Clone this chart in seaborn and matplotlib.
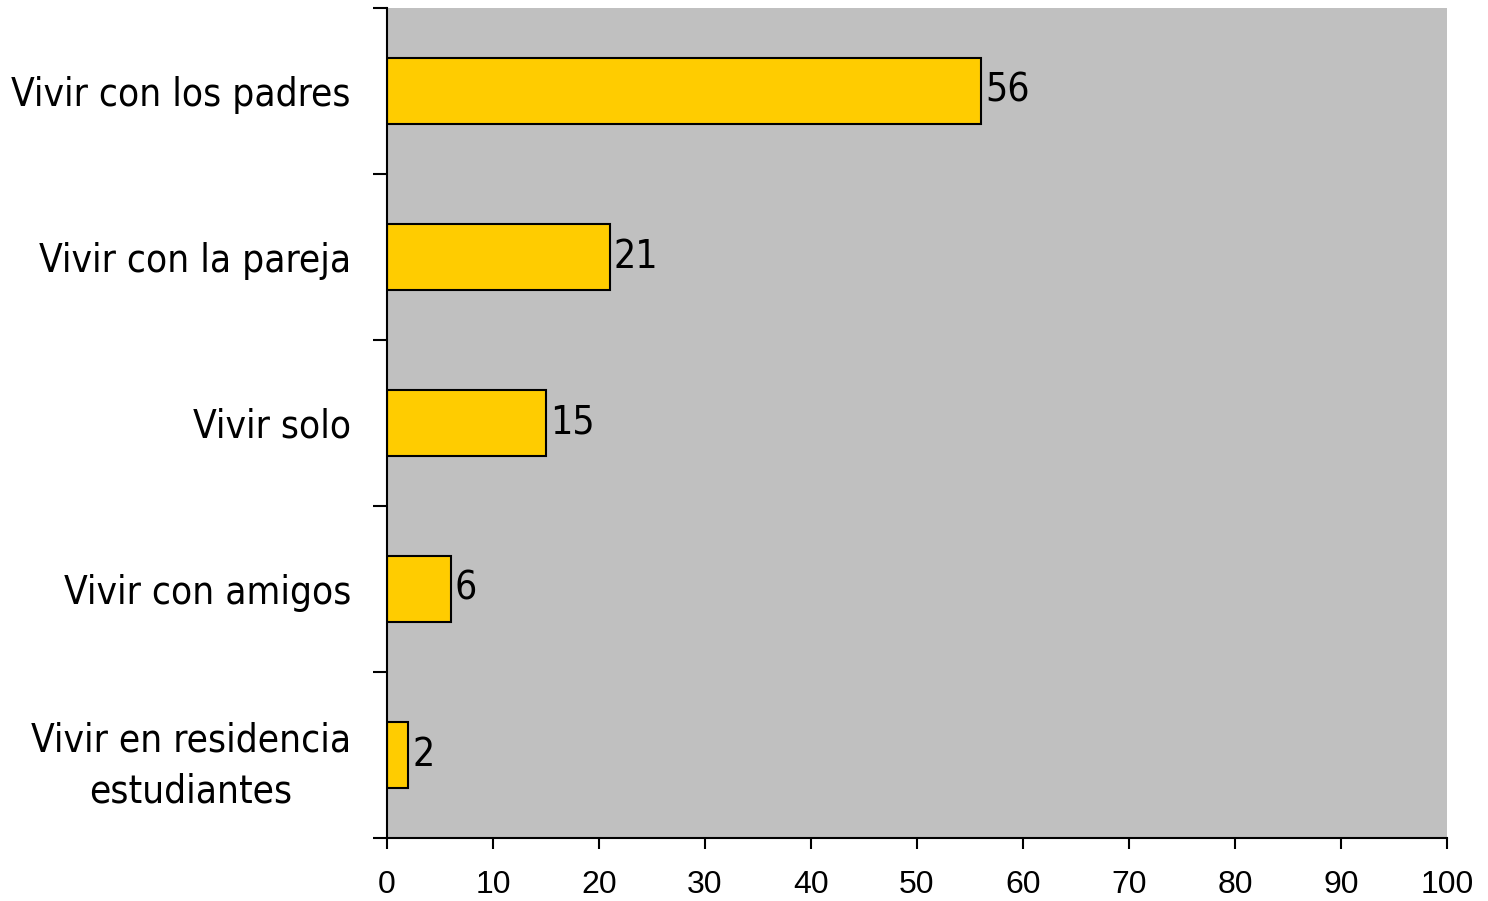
import matplotlib
matplotlib.use("Agg")
import matplotlib.pyplot as plt
import seaborn as sns
import pandas as pd
import numpy as np

categories = ["Vivir con los padres", "Vivir con la pareja", "Vivir solo",
              "Vivir con amigos", "Vivir en residencia\nestudiantes"]
values = [56, 21, 15, 6, 2]
x_ticks = [0, 10, 20, 30, 40, 50, 60, 70, 80, 90, 100]

sns.set_theme(style="white")
plt.rcParams['font.family'] = ['DejaVu Sans']

fig = plt.figure(figsize=(14.88, 9.01), dpi=100)
ax = fig.add_axes([387/1488, 1-838/901, (1447-387)/1488, (838-8)/901])

df = pd.DataFrame({"cat": categories, "val": values})
sns.barplot(data=df, y="cat", x="val", orient="h", width=0.4, color="#FFCC00",
            edgecolor="black", linewidth=1.5, saturation=1, ax=ax)

ax.set_facecolor("#C0C0C0")
ax.set_xlim(0, 100)
ax.set_ylim(len(categories)-0.5, -0.5)
ax.set_xlabel("")
ax.set_ylabel("")

for s in ["top", "right"]:
    ax.spines[s].set_visible(False)
for s in ["left", "bottom"]:
    ax.spines[s].set_color("black")
    ax.spines[s].set_linewidth(1.5)

ax.set_xticks(x_ticks)
ax.set_xticklabels([str(t) for t in x_ticks], fontsize=23, family=['Liberation Sans', 'DejaVu Sans'])
ax.tick_params(axis="x", direction="out", length=8, width=1.5, color="black", pad=15, labelcolor="black", bottom=True)

n = len(categories)
ax.set_yticks(np.arange(-0.5, n, 1.0))
ax.set_yticklabels([])
ax.set_yticks(np.arange(n), minor=True)
ax.set_yticklabels(categories, minor=True, fontsize=27.8, color="black")
ax.tick_params(axis="y", which="major", direction="out", length=10, width=1.5, color="black", left=True)
ax.tick_params(axis="y", which="minor", length=0, pad=26, left=True)
for lab in ax.get_yticklabels(minor=True):
    lab.set_multialignment("center")
    lab.set_fontstretch("condensed")
    lab.set_linespacing(1.45)

for i, v in enumerate(values):
    ax.text(v + 0.4, i, str(v), va="center", ha="left", fontsize=28, color="black",
            fontstretch="condensed")

fig.savefig("out.png", dpi=100)
